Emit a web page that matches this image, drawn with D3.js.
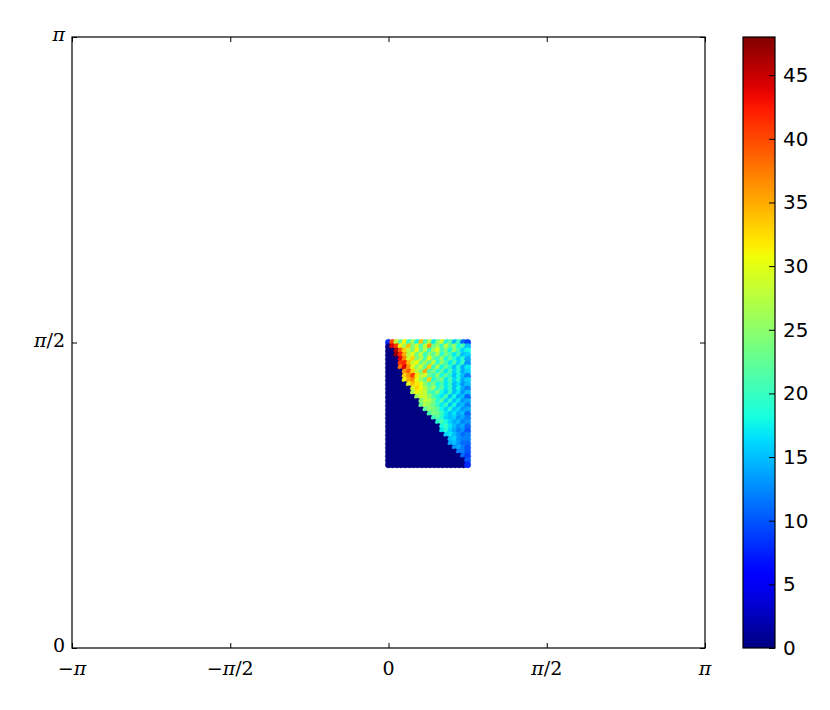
<!DOCTYPE html>
<html>
<head>
<meta charset="utf-8">
<script src="https://cdn.jsdelivr.net/npm/d3@7"></script>
<style>
  body { margin: 0; background: #fff; }
  svg { display: block; }
</style>
</head>
<body>
<div id="chart"></div>
<script>
// grid of phi (x) values, left to right
const phiValues = [0, 0.041, 0.083, 0.124, 0.165, 0.207, 0.248, 0.289, 0.331, 0.372,
                   0.413, 0.455, 0.496, 0.537, 0.579, 0.620, 0.661, 0.703, 0.744, 0.785];

// grid of theta (y) values, top to bottom
const thetaValues = [1.5708, 1.5491, 1.5275, 1.5058, 1.4841, 1.4625, 1.4408, 1.4191, 1.3975, 1.3758,
                     1.3541, 1.3325, 1.3108, 1.2891, 1.2675, 1.2458, 1.2241, 1.2025, 1.1808, 1.1591,
                     1.1375, 1.1158, 1.0941, 1.0725, 1.0508, 1.0291, 1.0075, 0.9858, 0.9641, 0.9425];

// non-zero values of each row, aligned to the right edge; cells to the left are 0
const rowValues = [
  [8, 40, 28, 22, 31, 20, 26, 18, 34, 21, 27, 17, 24, 29, 19, 22, 15, 20, 11, 9],
  [44, 41, 31, 26, 34, 24, 29, 21, 28, 36, 23, 26, 20, 28, 22, 25, 18, 21, 15],
  [46, 39, 33, 28, 24, 31, 22, 27, 20, 26, 30, 21, 24, 18, 25, 20, 16, 18],
  [47, 42, 35, 27, 30, 23, 28, 20, 25, 22, 27, 19, 24, 21, 17, 21, 15, 16],
  [44, 37, 29, 33, 24, 27, 21, 30, 23, 20, 26, 18, 23, 19, 16, 19, 14],
  [41, 42, 34, 28, 31, 23, 26, 22, 28, 19, 25, 21, 17, 21, 16, 20, 13],
  [38, 44, 36, 30, 25, 29, 22, 33, 20, 27, 18, 23, 19, 15, 19, 14, 17],
  [36, 39, 33, 28, 24, 35, 21, 24, 19, 22, 17, 21, 16, 19, 14, 16],
  [33, 36, 41, 32, 27, 29, 23, 20, 25, 18, 22, 19, 15, 18, 15, 12],
  [31, 35, 37, 30, 26, 22, 33, 19, 22, 24, 17, 21, 16, 19, 14, 16],
  [30, 34, 32, 30, 25, 21, 24, 18, 21, 17, 20, 15, 17, 13, 15],
  [29, 33, 31, 27, 23, 26, 19, 22, 17, 20, 15, 18, 14, 12],
  [27, 31, 29, 28, 22, 20, 24, 18, 16, 20, 15, 17, 13, 15],
  [26, 29, 28, 25, 21, 19, 17, 21, 15, 18, 14, 15, 11],
  [24, 28, 27, 24, 19, 22, 16, 19, 15, 17, 13, 14],
  [23, 27, 25, 23, 20, 17, 20, 15, 18, 14, 15, 12],
  [22, 25, 24, 22, 18, 16, 19, 15, 16, 13, 14],
  [21, 24, 23, 20, 17, 15, 17, 14, 15, 11],
  [20, 22, 19, 16, 15, 16, 13, 14, 12],
  [19, 21, 18, 16, 14, 15, 12, 13],
  [18, 20, 17, 15, 13, 14, 11],
  [17, 19, 16, 14, 12, 13, 10],
  [16, 17, 15, 13, 11, 12],
  [15, 16, 13, 12, 12],
  [14, 15, 13, 11, 11],
  [13, 14, 12, 10],
  [12, 12, 10],
  [11, 9],
  [10],
  [8]
];

const xTicks = [-Math.PI, -Math.PI / 2, 0, Math.PI / 2, Math.PI];
const xTickLabels = [["−", "π", ""], ["−", "π", "/2"], ["", "0", ""], ["", "π", "/2"], ["", "π", ""]];
const yTicks = [0, Math.PI / 2, Math.PI];
const yTickLabels = [["", "0", ""], ["", "π", "/2"], ["", "π", ""]];
const colorTicks = [0, 5, 10, 15, 20, 25, 30, 35, 40, 45];
const colorMax = 48;

const width = 830, height = 710;
const plot = {left: 72, right: 705, top: 37, bottom: 648};
const bar = {left: 743, right: 775};

// matplotlib "jet"
const jetR = d3.scaleLinear().domain([0, 0.35, 0.66, 0.89, 1]).range([0, 0, 1, 1, 0.5]).clamp(true);
const jetG = d3.scaleLinear().domain([0, 0.125, 0.375, 0.64, 0.91, 1]).range([0, 0, 1, 1, 0, 0]).clamp(true);
const jetB = d3.scaleLinear().domain([0, 0.11, 0.34, 0.65, 1]).range([0.5, 1, 1, 0, 0]).clamp(true);
const jet = t => d3.rgb(jetR(t) * 255, jetG(t) * 255, jetB(t) * 255).formatHex();
const color = v => jet(v / colorMax);

const points = [];
rowValues.forEach((row, r) => {
  const lead = phiValues.length - row.length;
  phiValues.forEach((phi, c) => {
    points.push({phi, theta: thetaValues[r], value: c < lead ? 0 : row[c - lead]});
  });
});

const x = d3.scaleLinear().domain([-Math.PI, Math.PI]).range([plot.left, plot.right]);
const y = d3.scaleLinear().domain([0, Math.PI]).range([plot.bottom, plot.top]);
const cy = d3.scaleLinear().domain([0, colorMax]).range([plot.bottom, plot.top]);

const svg = d3.select("#chart").append("svg")
  .attr("width", width)
  .attr("height", height);

svg.append("g")
  .selectAll("circle")
  .data(points)
  .join("circle")
  .attr("cx", d => x(d.phi))
  .attr("cy", d => y(d.theta))
  .attr("r", 3.2)
  .attr("fill", d => color(d.value))
  .attr("stroke", d => color(d.value))
  .attr("stroke-width", 0.4);

// inward ticks on all four sides
const tickLen = 5;
svg.append("g").attr("transform", `translate(0,${plot.bottom})`)
  .call(d3.axisBottom(x).tickValues(xTicks).tickSize(-tickLen).tickFormat(""));
svg.append("g").attr("transform", `translate(0,${plot.top})`)
  .call(d3.axisTop(x).tickValues(xTicks).tickSize(-tickLen).tickFormat(""));
svg.append("g").attr("transform", `translate(${plot.left},0)`)
  .call(d3.axisLeft(y).tickValues(yTicks).tickSize(-tickLen).tickFormat(""));
svg.append("g").attr("transform", `translate(${plot.right},0)`)
  .call(d3.axisRight(y).tickValues(yTicks).tickSize(-tickLen).tickFormat(""));
svg.selectAll(".domain").remove();

svg.append("rect")
  .attr("x", plot.left).attr("y", plot.top)
  .attr("width", plot.right - plot.left).attr("height", plot.bottom - plot.top)
  .attr("fill", "none").attr("stroke", "#000").attr("stroke-width", 1.2);

const mathLabel = (sel, parts) => {
  sel.append("tspan").text(parts[0]);
  sel.append("tspan").attr("font-style", parts[1] === "π" ? "italic" : "normal").text(parts[1]);
  sel.append("tspan").text(parts[2]);
};

xTicks.forEach((t, i) => {
  svg.append("text")
    .attr("x", x(t)).attr("y", plot.bottom + 27)
    .attr("text-anchor", "middle")
    .attr("font-family", "'DejaVu Serif', 'Liberation Serif', serif")
    .attr("font-size", 19)
    .call(mathLabel, xTickLabels[i]);
});

yTicks.forEach((t, i) => {
  svg.append("text")
    .attr("x", plot.left - 7).attr("y", y(t) + 4)
    .attr("text-anchor", "end")
    .attr("font-family", "'DejaVu Serif', 'Liberation Serif', serif")
    .attr("font-size", 19)
    .call(mathLabel, yTickLabels[i]);
});

// colorbar
const grad = svg.append("defs").append("linearGradient")
  .attr("id", "jet").attr("x1", 0).attr("y1", 1).attr("x2", 0).attr("y2", 0);
grad.selectAll("stop")
  .data(d3.range(0, 1.0001, 0.02))
  .join("stop")
  .attr("offset", d => d)
  .attr("stop-color", d => jet(d));

svg.append("rect")
  .attr("x", bar.left).attr("y", plot.top)
  .attr("width", bar.right - bar.left).attr("height", plot.bottom - plot.top)
  .attr("fill", "url(#jet)");

const cAxis = svg.append("g").attr("transform", `translate(${bar.right},0)`)
  .call(d3.axisRight(cy).tickValues(colorTicks).tickSize(-6).tickPadding(8));
cAxis.select(".domain").remove();
cAxis.selectAll("text")
  .attr("font-family", "'DejaVu Sans', sans-serif")
  .attr("font-size", 20)
  .attr("fill", "#000");

svg.append("rect")
  .attr("x", bar.left).attr("y", plot.top)
  .attr("width", bar.right - bar.left).attr("height", plot.bottom - plot.top)
  .attr("fill", "none").attr("stroke", "#000").attr("stroke-width", 1.2);
</script>
</body>
</html>
